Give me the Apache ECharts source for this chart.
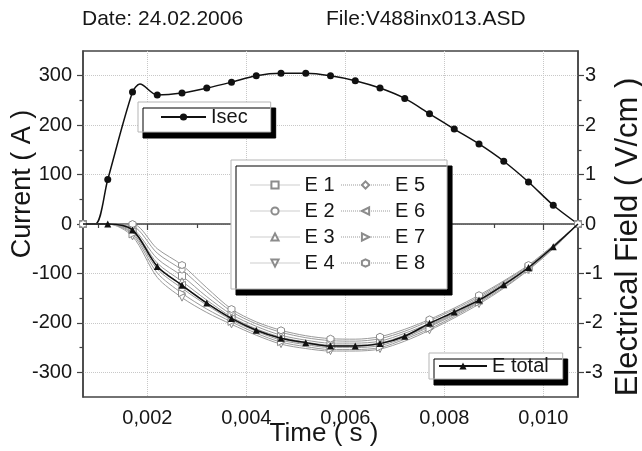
<!DOCTYPE html>
<html>
<head>
<meta charset="utf-8">
<script src="https://cdn.jsdelivr.net/npm/echarts@6/dist/echarts.min.js"></script>
<style>
html,body{margin:0;padding:0;background:#fff;}
#chart{width:642px;height:451px;}
</style>
</head>
<body>
<div id="chart"></div>
<script>
// ---- data ----
const isecTime = [0.0007, 0.00095, 0.0012, 0.0017, 0.00185, 0.0022, 0.0027, 0.0032, 0.0037, 0.0042, 0.0047, 0.0052, 0.0057, 0.0062, 0.0067, 0.0072, 0.0077, 0.0082, 0.0087, 0.0092, 0.0097, 0.0102, 0.0107];
const isecValues = [0, 0, 90, 267, 283, 261, 265, 275, 287, 300, 305, 305, 300, 290, 275, 254, 223, 192, 162, 127, 85, 38, 0];

const eTime = [0.0007, 0.0012, 0.0017, 0.0022, 0.0027, 0.0032, 0.0037, 0.0042, 0.0047, 0.0052, 0.0057, 0.0062, 0.0067, 0.0072, 0.0077, 0.0082, 0.0087, 0.0092, 0.0097, 0.0102, 0.0107];
const eTotal = [0, 0, -0.12, -0.86, -1.24, -1.60, -1.91, -2.15, -2.31, -2.40, -2.47, -2.47, -2.42, -2.27, -2.01, -1.78, -1.54, -1.23, -0.88, -0.46, 0];
const e1 = [0, 0, -0.09, -0.70, -1.05, -1.47, -1.83, -2.07, -2.25, -2.35, -2.41, -2.41, -2.37, -2.21, -2.01, -1.77, -1.50, -1.20, -0.87, -0.45, 0];
const e2 = [0, 0, -0.18, -0.91, -1.30, -1.64, -1.94, -2.17, -2.35, -2.44, -2.50, -2.50, -2.46, -2.30, -2.08, -1.84, -1.57, -1.25, -0.90, -0.48, 0];
const e3 = [0, 0, -0.12, -0.79, -1.16, -1.54, -1.88, -2.12, -2.29, -2.39, -2.45, -2.45, -2.41, -2.25, -2.04, -1.80, -1.53, -1.22, -0.88, -0.46, 0];
const e4 = [0, 0, -0.25, -1.08, -1.49, -1.79, -2.03, -2.25, -2.43, -2.52, -2.57, -2.57, -2.53, -2.37, -2.15, -1.90, -1.62, -1.30, -0.93, -0.50, 0];
const e5 = [0, 0, -0.04, -0.59, -0.93, -1.37, -1.77, -2.02, -2.19, -2.30, -2.36, -2.37, -2.32, -2.17, -1.96, -1.73, -1.47, -1.17, -0.85, -0.44, 0];
const e6 = [0, 0, -0.15, -0.85, -1.23, -1.59, -1.91, -2.14, -2.32, -2.42, -2.47, -2.47, -2.43, -2.27, -2.06, -1.82, -1.55, -1.24, -0.89, -0.47, 0];
const e7 = [0, 0, -0.21, -0.99, -1.40, -1.72, -1.98, -2.21, -2.39, -2.48, -2.54, -2.54, -2.50, -2.33, -2.12, -1.87, -1.59, -1.28, -0.92, -0.49, 0];
const e8 = [0, 0, 0, -0.50, -0.83, -1.29, -1.72, -1.98, -2.15, -2.26, -2.32, -2.33, -2.28, -2.13, -1.93, -1.70, -1.44, -1.15, -0.83, -0.43, 0];

const xMajorTicks = [0.002, 0.004, 0.006, 0.008, 0.010];
const xMinorTicks = [0.001, 0.003, 0.005, 0.007, 0.009];
const currentTicks = [-300, -200, -100, 0, 100, 200, 300];
const currentMinorTicks = [-250, -150, -50, 50, 150, 250];
const fieldTicks = [-3, -2, -1, 0, 1, 2, 3];
const fieldMinorTicks = [-2.5, -1.5, -0.5, 0.5, 1.5, 2.5];

const eNames = ['E 1', 'E 2', 'E 3', 'E 4', 'E 5', 'E 6', 'E 7', 'E 8'];
const eSets = [e1, e2, e3, e4, e5, e6, e7, e8];
const eSymbols = ['rect', 'circle', 'triangle', 'triangle', 'diamond', 'triangle', 'triangle',
  'path://M0,-10L8.66,-5L8.66,5L0,10L-8.66,5L-8.66,-5Z'];
const eRotate = [0, 0, 0, 180, 0, 90, -90, 0];

// ---- chart ----
const FONT = 'Liberation Sans, Arial, sans-serif';
const TXT = '#161616';
const pair = (xs, ys) => xs.map((x, i) => [x, ys[i]]);
const onGrid = (x) => { const k = (x - 0.0007) / 0.0005; return Math.abs(k - Math.round(k)) < 0.01 && k > 0.5 && k < 19.5; };

const series = [];
series.push({
  name: 'Isec', type: 'line', xAxisIndex: 0, yAxisIndex: 0,
  data: pair(isecTime, isecValues), smooth: 0.3,
  symbol: 'circle', symbolSize: (v) => onGrid(v[0]) ? 7 : 0, showAllSymbol: true,
  lineStyle: { color: '#111', width: 1.5 }, itemStyle: { color: '#111' }, z: 3
});
eSets.forEach((arr, i) => {
  series.push({
    name: eNames[i], type: 'line', xAxisIndex: 0, yAxisIndex: 1,
    data: pair(eTime, arr), smooth: 0.3,
    symbol: eSymbols[i], symbolRotate: eRotate[i],
    symbolSize: (v, p) => (p.dataIndex % 2 === 0 ? 7 : 0), showAllSymbol: true,
    lineStyle: { color: '#9a9a9a', width: 1 },
    itemStyle: { color: '#fff', borderColor: '#8c8c8c', borderWidth: 1 }, z: 4
  });
});
series.push({
  name: 'E total', type: 'line', xAxisIndex: 0, yAxisIndex: 1,
  data: pair(eTime, eTotal), smooth: 0.3,
  symbol: 'triangle', symbolSize: (v) => onGrid(v[0]) ? 7 : 0, showAllSymbol: true,
  lineStyle: { color: '#111', width: 1.5 }, itemStyle: { color: '#111' }, z: 5
});

const axisLineStyle = { color: '#444', width: 1.5 };
const legendBase = {
  orient: 'horizontal', backgroundColor: '#fff', borderColor: '#b5b5b5', borderWidth: 1,
  shadowColor: '#000', shadowBlur: 0, shadowOffsetX: 5, shadowOffsetY: 6,
  selectedMode: false, itemHeight: 9,
  textStyle: { fontSize: 20, color: TXT, fontFamily: FONT }
};

const option = {
  animation: false,
  backgroundColor: '#fff',
  textStyle: { fontFamily: FONT },
  title: [
    { text: 'Date: 24.02.2006', left: 82, top: 9, padding: 0,
      textStyle: { fontSize: 21, fontWeight: 'normal', color: TXT, fontFamily: FONT } },
    { text: 'File:V488inx013.ASD', left: 326, top: 9, padding: 0,
      textStyle: { fontSize: 21, fontWeight: 'normal', color: TXT, fontFamily: FONT } }
  ],
  grid: { left: 83, right: 64, top: 51, bottom: 54, show: true, borderColor: '#444', borderWidth: 1.5,
    backgroundColor: 'transparent', containLabel: false, outerBoundsMode: 'none' },
  legend: [
    Object.assign({}, legendBase, {
      data: ['Isec'], left: 138, top: 102, padding: [5, 23, 5, 22], itemWidth: 45, itemGap: 0,
      textStyle: { fontSize: 20, color: TXT, fontFamily: FONT }
    }),
    Object.assign({}, legendBase, {
      data: ['E 1', 'E 5', 'E 2', 'E 6', 'E 3', 'E 7', 'E 4', 'E 8'],
      left: 231, top: 160, width: 184, padding: [15, 22, 16, 19], itemWidth: 49, itemGap: 6,
      lineStyle: { type: 'dotted', width: 1 },
      textStyle: { fontSize: 20, color: TXT, fontFamily: FONT }
    }),
    Object.assign({}, legendBase, {
      data: ['E total'], left: 429, top: 353, padding: [3, 14, 3, 9], itemWidth: 48, itemGap: 0,
      textStyle: { fontSize: 20, color: TXT, fontFamily: FONT }
    })
  ],
  xAxis: [
    {
      type: 'value', min: 0.0007, max: 0.0107, position: 'bottom',
      name: 'Time ( s )', nameLocation: 'middle', nameGap: 24, nameMoveOverlap: false,
      nameTextStyle: { fontSize: 26, color: TXT, fontFamily: FONT, padding: [0, 13, 0, 0] },
      axisLine: { show: true, lineStyle: axisLineStyle },
      axisTick: { show: true, length: 6, customValues: xMajorTicks, lineStyle: { color: '#444', width: 1.2 } },
      axisLabel: { customValues: xMajorTicks, margin: 11, fontSize: 20, color: TXT, fontFamily: FONT,
        formatter: (v) => v.toFixed(3).replace('.', ',') },
      splitLine: { show: true, lineStyle: { color: '#c8c8c8', type: 'dotted', width: 1 } }
    },
    {
      type: 'value', min: 0.0007, max: 0.0107, position: 'bottom', gridIndex: 0,
      axisLine: { show: false },
      axisTick: { show: true, length: 4, customValues: xMinorTicks, lineStyle: { color: '#444', width: 1.2 } },
      axisLabel: { show: false }, splitLine: { show: false }
    }
  ],
  yAxis: [
    {
      type: 'value', min: -350, max: 350, position: 'left',
      name: 'Current ( A )', nameLocation: 'middle', nameGap: 47, nameRotate: 90, nameMoveOverlap: false,
      nameTextStyle: { fontSize: 27, color: TXT, fontFamily: FONT, padding: [0, 0, 0, 80] },
      axisLine: { show: true, lineStyle: axisLineStyle },
      axisTick: { show: true, length: 6, customValues: currentTicks, lineStyle: { color: '#444', width: 1.2 } },
      axisLabel: { customValues: currentTicks, margin: 11, fontSize: 20, color: TXT, fontFamily: FONT },
      splitLine: { show: true, lineStyle: { color: '#c8c8c8', type: 'dotted', width: 1 } }
    },
    {
      type: 'value', min: -3.5, max: 3.5, position: 'right',
      name: 'Electrical Field ( V/cm )', nameLocation: 'middle', nameGap: 35, nameRotate: 90, nameMoveOverlap: false,
      nameTextStyle: { fontSize: 31, color: TXT, fontFamily: FONT, padding: [0, 26, 0, 0] },
      axisLine: { show: true, lineStyle: axisLineStyle },
      axisTick: { show: true, length: 6, customValues: fieldTicks, lineStyle: { color: '#444', width: 1.2 } },
      axisLabel: { customValues: fieldTicks, margin: 7, fontSize: 20, color: TXT, fontFamily: FONT },
      splitLine: { show: false }
    },
    {
      type: 'value', min: -350, max: 350, position: 'left',
      axisLine: { show: false },
      axisTick: { show: true, length: 3.5, customValues: currentMinorTicks, lineStyle: { color: '#444', width: 1.2 } },
      axisLabel: { show: false }, splitLine: { show: false }
    },
    {
      type: 'value', min: -3.5, max: 3.5, position: 'right',
      axisLine: { show: false },
      axisTick: { show: true, length: 3.5, customValues: fieldMinorTicks, lineStyle: { color: '#444', width: 1.2 } },
      axisLabel: { show: false }, splitLine: { show: false }
    }
  ],
  series: series
};

const chart = echarts.init(document.getElementById('chart'), null, { renderer: 'canvas' });
chart.setOption(option);
</script>
</body>
</html>
